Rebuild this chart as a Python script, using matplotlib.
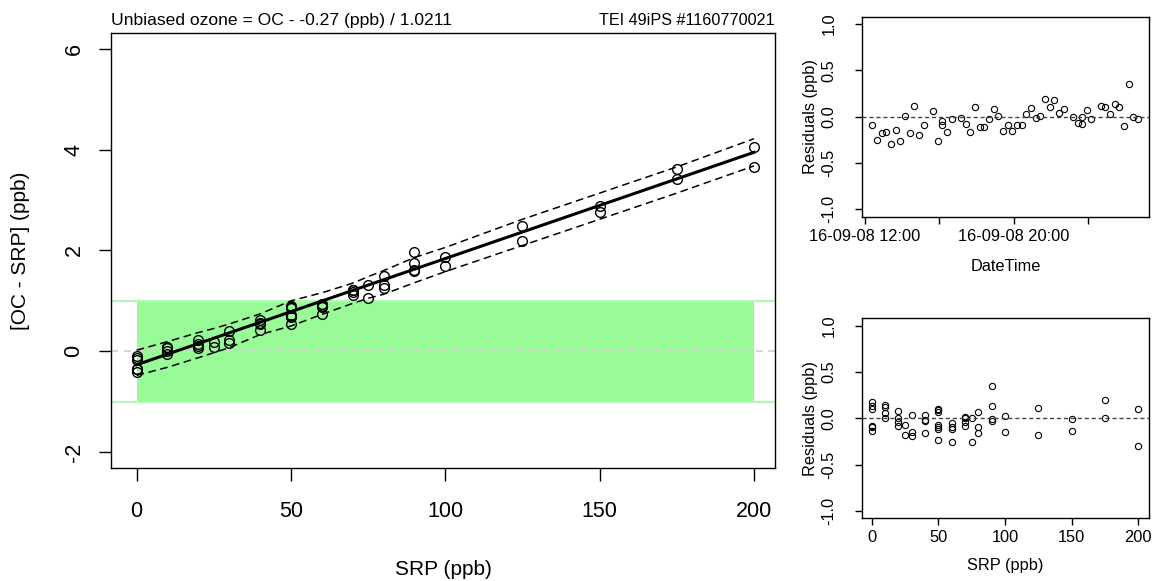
"""
Ozone calibration chart: bias vs SRP, with residual panels
"""

import numpy as np
import pandas as pd
import matplotlib
matplotlib.use("Agg")
import matplotlib.pyplot as plt

plt.rcParams['font.family'] = ['Liberation Sans', 'DejaVu Sans']
plt.rcParams['axes.unicode_minus'] = False

##########################################################################
## Data
##########################################################################

intercept = -0.27
slope = 0.0211

srp = [0, 0, 0, 0, 0, 0,
       10, 10, 10, 10,
       20, 20, 20, 20,
       25, 25,
       30, 30, 30,
       40, 40, 40, 40,
       50, 50, 50, 50, 50, 50, 50,
       60, 60, 60, 60,
       70, 70, 70, 70,
       75, 75,
       80, 80, 80,
       90, 90, 90, 90,
       100, 100,
       125, 125,
       150, 150,
       175, 175,
       200, 200]

oc_minus_srp = [-0.09, -0.14, -0.17, -0.35, -0.36, -0.41,
                0.08, 0.06, 0.00, -0.06,
                0.23, 0.15, 0.11, 0.07,
                0.18, 0.08,
                0.40, 0.22, 0.17,
                0.61, 0.56, 0.55, 0.42,
                0.89, 0.87, 0.85, 0.71, 0.69, 0.67, 0.55,
                0.94, 0.90, 0.88, 0.74,
                1.22, 1.21, 1.17, 1.12,
                1.32, 1.06,
                1.49, 1.32, 1.26,
                1.98, 1.76, 1.62, 1.60,
                1.87, 1.69,
                2.48, 2.19,
                2.89, 2.76,
                3.62, 3.43,
                4.05, 3.65]

# prediction band (dashed lines)
band_srp = [0, 10, 20, 25, 30, 40, 50, 60, 70, 75, 80, 90, 100, 125, 150, 175, 200]
band_upper = [0.02, 0.19, 0.37, 0.45, 0.54, 0.74, 1.00, 1.16, 1.35, 1.48, 1.60, 1.86,
              2.06, 2.62, 3.14, 3.66, 4.22]
band_lower = [-0.48, -0.32, -0.13, -0.03, 0.07, 0.33, 0.50, 0.73, 0.95, 1.05, 1.13,
              1.36, 1.58, 2.10, 2.62, 3.14, 3.68]

# residuals against time
times = ["2016-09-08 12:25", "2016-09-08 12:40", "2016-09-08 12:55", "2016-09-08 13:10",
         "2016-09-08 13:25", "2016-09-08 13:40", "2016-09-08 13:55", "2016-09-08 14:10",
         "2016-09-08 14:25", "2016-09-08 14:40", "2016-09-08 14:55", "2016-09-08 15:10",
         "2016-09-08 15:40", "2016-09-08 15:55", "2016-09-08 16:10", "2016-09-08 16:10",
         "2016-09-08 16:25", "2016-09-08 16:40", "2016-09-08 17:10", "2016-09-08 17:25",
         "2016-09-08 17:40", "2016-09-08 17:55", "2016-09-08 18:10", "2016-09-08 18:25",
         "2016-09-08 18:40", "2016-09-08 18:55", "2016-09-08 19:10", "2016-09-08 19:25",
         "2016-09-08 19:40", "2016-09-08 19:55", "2016-09-08 20:10", "2016-09-08 20:25",
         "2016-09-08 20:40", "2016-09-08 20:55", "2016-09-08 21:10", "2016-09-08 21:25",
         "2016-09-08 21:40", "2016-09-08 21:55", "2016-09-08 22:10", "2016-09-08 22:25",
         "2016-09-08 22:40", "2016-09-08 23:10", "2016-09-08 23:25", "2016-09-08 23:40",
         "2016-09-08 23:40", "2016-09-08 23:55", "2016-09-09 00:10", "2016-09-09 00:40",
         "2016-09-09 00:55", "2016-09-09 01:10", "2016-09-09 01:25", "2016-09-09 01:40",
         "2016-09-09 01:55", "2016-09-09 02:10", "2016-09-09 02:25", "2016-09-09 02:40"]
time_resid = [-0.09, -0.25, -0.18, -0.16, -0.30, -0.14, -0.26, 0.01, -0.18, 0.12,
              -0.20, -0.09, 0.06, -0.26, -0.05, -0.09, -0.17, -0.03, -0.01, -0.08,
              -0.16, 0.11, -0.11, -0.11, -0.03, 0.08, 0.01, -0.15, -0.09, -0.15,
              -0.09, -0.09, 0.03, 0.09, -0.01, 0.01, 0.19, 0.10, 0.18, 0.04,
              0.08, 0.00, -0.07, 0.00, -0.08, 0.07, -0.02, 0.12, 0.10, 0.03,
              0.14, 0.10, -0.10, 0.35, 0.00, -0.03]

time_ticks = ["2016-09-08 12:00", "2016-09-08 16:00", "2016-09-08 20:00", "2016-09-09 00:00"]
time_tick_labels = ["16-09-08 12:00", "", "16-09-08 20:00", ""]

title_left = "Unbiased ozone = OC - -0.27 (ppb) / 1.0211"
title_right = "TEI 49iPS #1160770021"

##########################################################################
## Helpers
##########################################################################

def r_style(axe, fs, ticklen, xpad, ypad):
    for sp in axe.spines.values():
        sp.set_linewidth(1.0)
    axe.tick_params(direction='out', length=ticklen, width=1.0, labelsize=fs)
    axe.tick_params(axis='x', pad=xpad)
    axe.tick_params(axis='y', pad=ypad)
    for lbl in axe.get_yticklabels():
        lbl.set_rotation(90)
        lbl.set_va('center')


##########################################################################
## Figure
##########################################################################

fig = plt.figure(figsize=(11.57, 5.81), dpi=100)
srp_arr = np.array(srp, dtype=float)
delta = np.array(oc_minus_srp)
fit = intercept + slope * srp_arr
resid = delta - fit

# main plot
axe = fig.add_axes([0.0959, 0.1945, 0.5739, 0.7487])
axe.fill_between([0, 200], [-1, -1], [1, 1], color='#98FB98', lw=0, zorder=1)
axe.axhline(1, color='#b8f5b8', lw=1.5, zorder=1)
axe.axhline(-1, color='#b8f5b8', lw=1.5, zorder=1)
axe.axhline(0, color='#d3d3d3', lw=1.3, ls=(0, (4, 3)), zorder=2)
xs = np.array([0, 200])
axe.plot(xs, intercept + slope * xs, color='black', lw=2.2, zorder=3)
axe.plot(band_srp, band_upper, color='black', lw=1.1, ls=(0, (5, 3)), zorder=3)
axe.plot(band_srp, band_lower, color='black', lw=1.1, ls=(0, (5, 3)), zorder=3)
axe.plot(srp, oc_minus_srp, 'o', mfc='none', mec='black', ms=7, mew=1, zorder=4)
axe.set_xlim(-8.3, 206.8)
axe.set_ylim(-2.32, 6.32)
axe.set_xticks([0, 50, 100, 150, 200])
axe.set_yticks([-2, 0, 2, 4, 6])
axe.set_xlabel('SRP (ppb)', fontsize=15, labelpad=27)
axe.set_ylabel('[OC - SRP] (ppb)', fontsize=15, labelpad=24)
axe.set_title(title_left, loc='left', fontsize=12.6, pad=6)
axe.set_title(title_right, loc='right', fontsize=11.6, pad=6)
r_style(axe, 15.5, 9, 15, 10)

# residuals vs time
t = pd.to_datetime(times)
ax2 = fig.add_axes([0.7448, 0.627, 0.2483, 0.3443])
ax2.plot(t, time_resid, 'o', mfc='none', mec='black', ms=4.5, mew=0.8)
ax2.axhline(0, color='#444444', lw=1, ls=(0, (3, 2)))
ax2.set_ylim(-1.08, 1.08)
ax2.set_xlim(pd.Timestamp("2016-09-08 11:51"), pd.Timestamp("2016-09-09 03:15"))
ax2.set_yticks([-1.0, -0.5, 0.0, 0.5, 1.0])
ax2.set_yticklabels(['-1.0', '-0.5', '0.0', '0.5', '1.0'])
ax2.set_xticks(pd.to_datetime(time_ticks))
ax2.set_xticklabels(time_tick_labels)
ax2.set_xlabel('DateTime', fontsize=11.8, labelpad=11)
ax2.set_ylabel('Residuals (ppb)', fontsize=11.8, labelpad=3)
r_style(ax2, 11.8, 5, 3.5, 13)

# residuals vs SRP
ax3 = fig.add_axes([0.7448, 0.1079, 0.2483, 0.3443])
ax3.plot(srp_arr, resid, 'o', mfc='none', mec='black', ms=4.5, mew=0.8)
ax3.axhline(0, color='#444444', lw=1, ls=(0, (3, 2)))
ax3.set_ylim(-1.08, 1.08)
ax3.set_xlim(-7.5, 208)
ax3.set_xticks([0, 50, 100, 150, 200])
ax3.set_yticks([-1.0, -0.5, 0.0, 0.5, 1.0])
ax3.set_yticklabels(['-1.0', '-0.5', '0.0', '0.5', '1.0'])
ax3.set_xlabel('SRP (ppb)', fontsize=11.8, labelpad=9)
ax3.set_ylabel('Residuals (ppb)', fontsize=11.8, labelpad=3)
r_style(ax3, 11.8, 5, 3.5, 13)

plt.savefig('out.png', dpi=100)
